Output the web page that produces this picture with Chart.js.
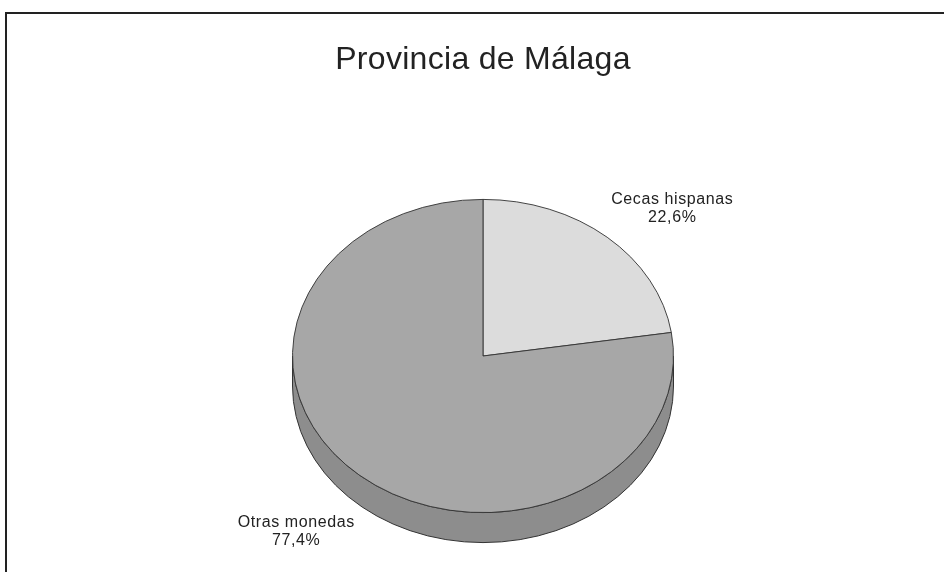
<!DOCTYPE html>
<html>
<head>
<meta charset="utf-8">
<script src="https://cdn.jsdelivr.net/npm/chart.js@4/dist/chart.umd.min.js"></script>
<style>
  html, body { margin: 0; padding: 0; background: #fff; }
  #wrap { width: 944px; height: 572px; position: relative; }
</style>
</head>
<body>
<div id="wrap"><canvas id="pieChart"></canvas></div>
<script>
const categories = ['Cecas hispanas', 'Otras monedas'];
const percentages = [22.6, 77.4];
const sliceColors = ['#dcdcdc', '#a7a7a7'];
const sideColor = '#8d8d8d';

const tilt = 157 / 191;   // vertical squash of the pie
const depth = 30;         // thickness of the 3D side

const fontFamily = "'Liberation Sans', Arial, sans-serif";

// frame: left and top lines like the scanned page
const framePlugin = {
  id: 'frame',
  beforeDraw(chart) {
    const ctx = chart.ctx;
    ctx.save();
    ctx.strokeStyle = '#222';
    ctx.lineWidth = 2;
    ctx.beginPath();
    ctx.moveTo(6, chart.height);
    ctx.lineTo(6, 13);
    ctx.lineTo(chart.width, 13);
    ctx.stroke();
    ctx.restore();
    // a bit of tracking for the title, like the original print
    ctx.letterSpacing = '0.3px';
  }
};

// squash the pie into an ellipse and draw its side first
const tiltPlugin = {
  id: 'tilt',
  beforeDatasetsDraw(chart) {
    const ctx = chart.ctx;
    ctx.letterSpacing = '0px';
    const arcs = chart.getDatasetMeta(0).data;
    ctx.save();
    arcs.forEach(arc => {
      const cx = arc.x, cy = arc.y;
      const rx = arc.outerRadius, ry = arc.outerRadius * tilt;
      const a = Math.max(arc.startAngle, 0);
      const b = Math.min(arc.endAngle, Math.PI);
      if (b <= a) return;
      ctx.beginPath();
      ctx.ellipse(cx, cy + depth, rx, ry, 0, a, b);
      ctx.ellipse(cx, cy, rx, ry, 0, b, a, true);
      ctx.closePath();
      ctx.fillStyle = sideColor;
      ctx.fill();
      ctx.strokeStyle = '#333';
      ctx.lineWidth = 1;
      ctx.stroke();
    });
    ctx.restore();

    const cx = arcs[0].x, cy = arcs[0].y;
    ctx.save();
    ctx.translate(cx, cy);
    ctx.scale(1, tilt);
    ctx.translate(-cx, -cy);
  },
  afterDatasetsDraw(chart) {
    chart.ctx.restore();
  }
};

// outside labels: name and percentage
const labelPlugin = {
  id: 'sliceLabels',
  afterDraw(chart) {
    const ctx = chart.ctx;
    const arcs = chart.getDatasetMeta(0).data;
    ctx.save();
    ctx.font = '16px ' + fontFamily;
    ctx.letterSpacing = '0.6px';
    ctx.fillStyle = '#222';
    ctx.textAlign = 'center';
    ctx.textBaseline = 'middle';
    arcs.forEach((arc, i) => {
      const mid = (arc.startAngle + arc.endAngle) / 2;
      const cos = Math.cos(mid), sin = Math.sin(mid);
      let ax = arc.x + arc.outerRadius * cos;
      let ay = arc.y + arc.outerRadius * tilt * sin;
      if (sin > 0) ay += depth;
      const line1 = categories[i];
      const line2 = percentages[i].toFixed(1).replace('.', ',') + '%';
      const w = Math.max(ctx.measureText(line1).width, ctx.measureText(line2).width);
      const h = 36;
      const gapX = 4, gapY = 10;
      const boxX = cos >= 0 ? ax + gapX : ax - gapX - w;
      const boxY = sin >= 0 ? ay + gapY : ay - gapY - h;
      ctx.fillText(line1, boxX + w / 2, boxY + 8);
      ctx.fillText(line2, boxX + w / 2, boxY + 26);
    });
    ctx.restore();
  }
};

new Chart(document.getElementById('pieChart'), {
  type: 'pie',
  data: {
    labels: categories,
    datasets: [{
      data: percentages,
      backgroundColor: sliceColors,
      borderColor: '#333',
      borderWidth: 1
    }]
  },
  options: {
    responsive: true,
    maintainAspectRatio: false,
    animation: false,
    layout: { padding: { top: 41.3, bottom: 25, left: 200, right: 178 } },
    plugins: {
      legend: { display: false },
      tooltip: { enabled: false },
      title: {
        display: true,
        text: 'Provincia de Málaga',
        color: '#222',
        font: { family: fontFamily, size: 32, weight: 'normal' },
        padding: { top: 0, bottom: 85.3 }
      }
    }
  },
  plugins: [framePlugin, tiltPlugin, labelPlugin]
});
</script>
</body>
</html>
